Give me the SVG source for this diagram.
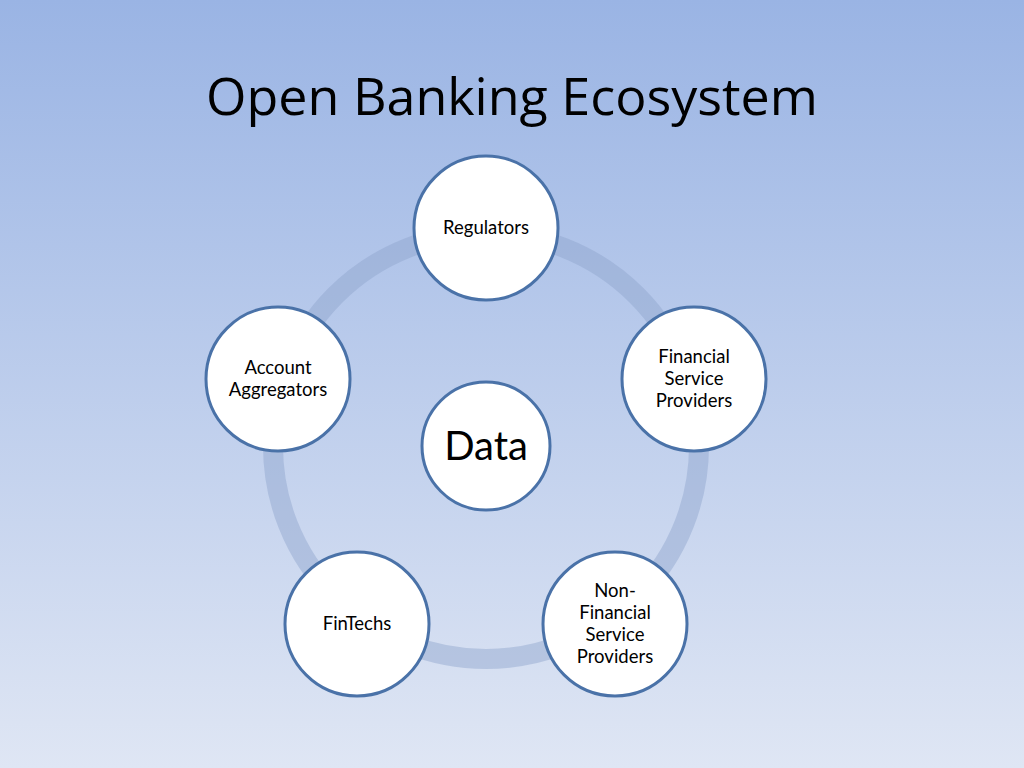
<svg xmlns="http://www.w3.org/2000/svg" width="1024" height="768" viewBox="0 0 1024 768">
<defs>
<linearGradient id="bg" x1="0" y1="0" x2="0" y2="1">
<stop offset="0" stop-color="#9ab4e4"/>
<stop offset="1" stop-color="#dfe6f4"/>
</linearGradient>
<style>
.node{fill:#ffffff;stroke:#4a72a8;stroke-width:3}
.lbl{font-family:Lato,"Liberation Sans",sans-serif;font-size:18.5px;fill:#000;text-anchor:middle}
.ring{fill:none;stroke:#8fa4cb;stroke-opacity:0.45;stroke-width:20}
</style>
</defs>
<rect width="1024" height="768" fill="url(#bg)"/>
<text x="512" y="115" font-family="'Open Sans','Noto Sans',sans-serif" font-size="52" text-anchor="middle" fill="#000">Open Banking Ecosystem</text>
<g id="connectors">
<circle class="ring" cx="486" cy="446" r="213"/>
</g>
<g id="regulators">
<circle class="node" cx="486" cy="228" r="72"/>
<text class="lbl" x="486" y="234">Regulators</text>
</g>
<g id="fsp">
<circle class="node" cx="694" cy="379" r="72"/>
<text class="lbl" x="694" y="363">Financial</text>
<text class="lbl" x="694" y="385">Service</text>
<text class="lbl" x="694" y="407">Providers</text>
</g>
<g id="nfsp">
<circle class="node" cx="615" cy="624" r="72"/>
<text class="lbl" x="615" y="597">Non-</text>
<text class="lbl" x="615" y="619">Financial</text>
<text class="lbl" x="615" y="641">Service</text>
<text class="lbl" x="615" y="663">Providers</text>
</g>
<g id="fintechs">
<circle class="node" cx="357" cy="624" r="72"/>
<text class="lbl" x="357" y="630">FinTechs</text>
</g>
<g id="aggregators">
<circle class="node" cx="278" cy="379" r="72"/>
<text class="lbl" x="278" y="374">Account</text>
<text class="lbl" x="278" y="396">Aggregators</text>
</g>
<g id="data">
<circle class="node" cx="486" cy="446" r="64"/>
<text x="486" y="460" font-family="Lato,'Liberation Sans',sans-serif" font-size="40" text-anchor="middle" fill="#000">Data</text>
</g>
</svg>
